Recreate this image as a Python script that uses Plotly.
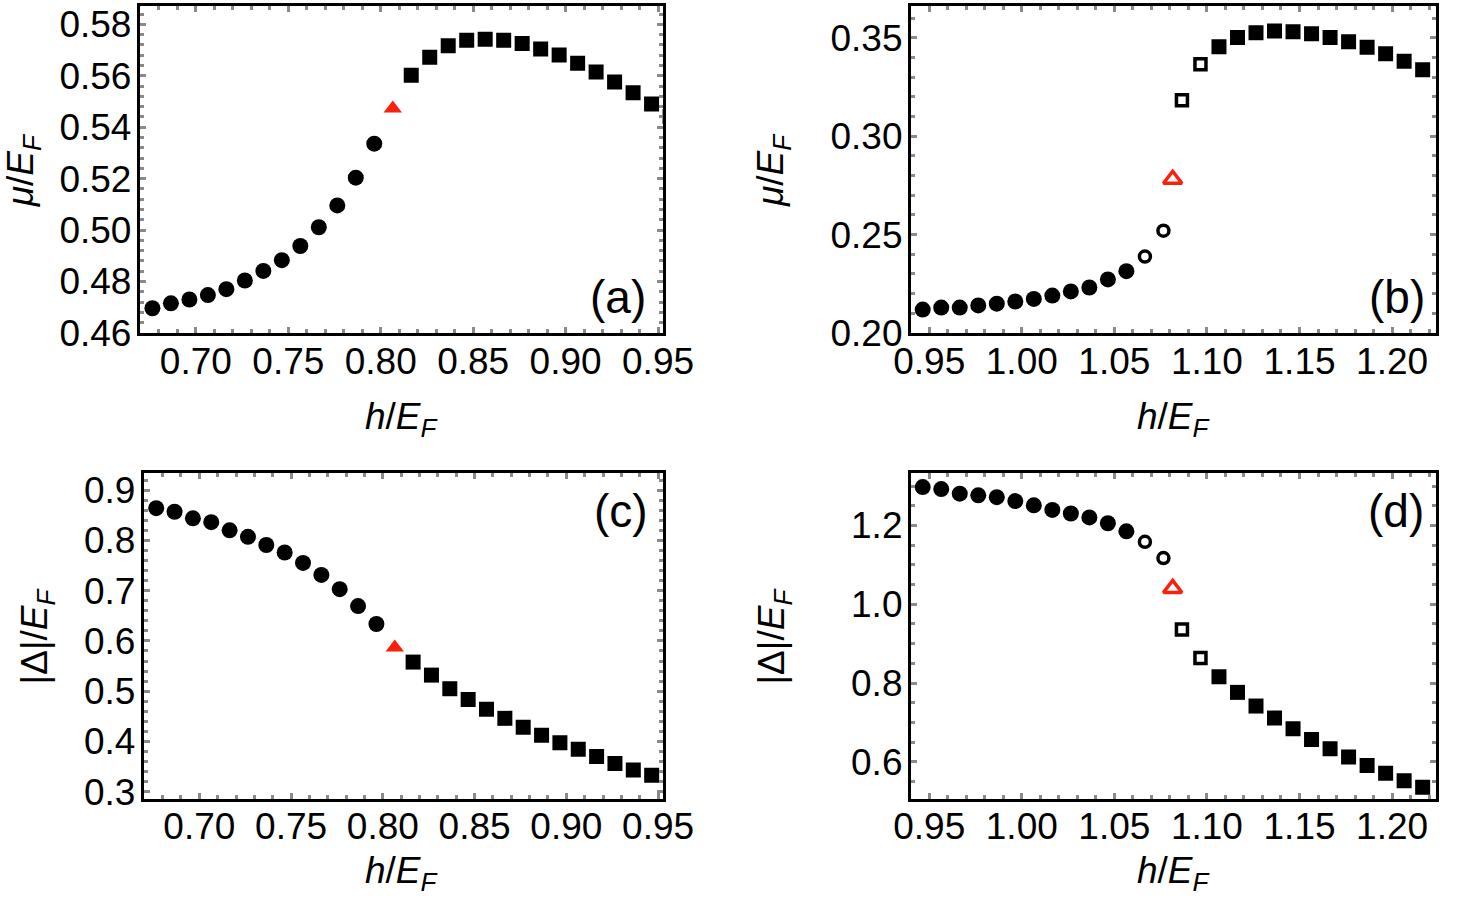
import plotly.graph_objects as go

# ---------------- data ----------------
# panel (a): mu/E_F vs h/E_F
a_circ_x = [0.6765, 0.6865, 0.6965, 0.7065, 0.7165, 0.7265, 0.7365, 0.7465, 0.7565, 0.7665, 0.7765, 0.7865, 0.7965]
a_circ_y = [0.4696, 0.4715, 0.4730, 0.4747, 0.4770, 0.4804, 0.4841, 0.4883, 0.4938, 0.5011, 0.5096, 0.5204, 0.5336]
a_tri_x = [0.8065]
a_tri_y = [0.5473]
a_sq_x = [0.8165, 0.8265, 0.8365, 0.8465, 0.8565, 0.8665, 0.8765, 0.8865, 0.8965, 0.9065, 0.9165, 0.9265, 0.9365, 0.9465, 0.9565]
a_sq_y = [0.5602, 0.5672, 0.5717, 0.5738, 0.5742, 0.5738, 0.5726, 0.5704, 0.5681, 0.5649, 0.5615, 0.5576, 0.5534, 0.5490, 0.5442]

# panel (c): |Delta|/E_F vs h/E_F
c_circ_x = a_circ_x
c_circ_y = [0.8641, 0.8570, 0.8440, 0.8362, 0.8201, 0.8071, 0.7909, 0.7760, 0.7553, 0.7314, 0.7029, 0.6693, 0.6337]
c_tri_x = [0.8065]
c_tri_y = [0.5870]
c_sq_x = [0.8165, 0.8265, 0.8365, 0.8465, 0.8565, 0.8665, 0.8765, 0.8865, 0.8965, 0.9065, 0.9165, 0.9265, 0.9365, 0.9465]
c_sq_y = [0.5579, 0.5320, 0.5049, 0.4835, 0.4641, 0.4460, 0.4285, 0.4123, 0.3974, 0.3845, 0.3702, 0.3560, 0.3430, 0.3327]

# panels (b), (d): shared h values
bd_circ_x = [0.9465, 0.9565, 0.9665, 0.9765, 0.9865, 0.9965, 1.0065, 1.0165, 1.0265, 1.0365, 1.0465, 1.0565]
bd_ocirc_x = [1.0665, 1.0765]
bd_tri_x = [1.0815]
bd_osq_x = [1.0865, 1.0965]
bd_sq_x = [1.1065, 1.1165, 1.1265, 1.1365, 1.1465, 1.1565, 1.1665, 1.1765, 1.1865, 1.1965, 1.2065, 1.2165]

b_circ_y = [0.2119, 0.2129, 0.2129, 0.2140, 0.2149, 0.2160, 0.2173, 0.2190, 0.2211, 0.2231, 0.2272, 0.2314]
b_ocirc_y = [0.2388, 0.2520]
b_tri_y = [0.2781]
b_osq_y = [0.3183, 0.3365]
b_sq_y = [0.3455, 0.3502, 0.3526, 0.3535, 0.3531, 0.3521, 0.3502, 0.3480, 0.3452, 0.3419, 0.3381, 0.3337]

d_circ_y = [1.2972, 1.2922, 1.2806, 1.2765, 1.2716, 1.2617, 1.2509, 1.2394, 1.2303, 1.2204, 1.2055, 1.1849]
d_ocirc_y = [1.1585, 1.1172]
d_tri_y = [1.0400]
d_osq_y = [0.9356, 0.8638]
d_sq_y = [0.8159, 0.7763, 0.7416, 0.7111, 0.6839, 0.6566, 0.6335, 0.6120, 0.5906, 0.5708, 0.5518, 0.5353]

x_ticks_ac = [0.70, 0.75, 0.80, 0.85, 0.90, 0.95]
x_ticks_bd = [0.95, 1.00, 1.05, 1.10, 1.15, 1.20]
y_ticks_a = [0.46, 0.48, 0.50, 0.52, 0.54, 0.56, 0.58]
y_ticks_b = [0.20, 0.25, 0.30, 0.35]
y_ticks_c = [0.3, 0.4, 0.5, 0.6, 0.7, 0.8, 0.9]
y_ticks_d = [0.6, 0.8, 1.0, 1.2]
panel_labels = ["(a)", "(b)", "(c)", "(d)"]

# ---------------- styling ----------------
W, H = 1472, 921
FONT = "Liberation Sans, Arial, sans-serif"
RED = "rgb(250,32,12)"
TICKC = "#8a8a8a"

def px_x(v):
    return min(1.0, max(0.0, v / W))

def px_y(v):
    return min(1.0, max(0.0, 1 - v / H))

fig = go.Figure()

def filled(x, y, sym, size, xa, ya, color="black"):
    fig.add_trace(go.Scatter(x=x, y=y, mode="markers", xaxis=xa, yaxis=ya,
                             marker=dict(symbol=sym, size=size, color=color, line=dict(width=0)),
                             showlegend=False, cliponaxis=True))

def hollow(x, y, sym, size, lw, xa, ya, color="black"):
    fig.add_trace(go.Scatter(x=x, y=y, mode="markers", xaxis=xa, yaxis=ya,
                             marker=dict(symbol=sym, size=size, color="white", line=dict(width=lw, color=color)),
                             showlegend=False, cliponaxis=True))

CS, SS, TS = 16, 15, 16
# (a)
filled(a_circ_x, a_circ_y, "circle", CS, "x", "y")
filled(a_tri_x, a_tri_y, "triangle-up", TS, "x", "y", RED)
filled(a_sq_x, a_sq_y, "square", SS, "x", "y")
# (b)
filled(bd_circ_x, b_circ_y, "circle", CS, "x2", "y2")
hollow(bd_ocirc_x, b_ocirc_y, "circle", 11, 3.5, "x2", "y2")
hollow(bd_tri_x, b_tri_y, "triangle-up", 16, 3.5, "x2", "y2", RED)
hollow(bd_osq_x, b_osq_y, "square", 11, 3.5, "x2", "y2")
filled(bd_sq_x, b_sq_y, "square", SS, "x2", "y2")
# (c)
filled(c_circ_x, c_circ_y, "circle", CS, "x3", "y3")
filled(c_tri_x, c_tri_y, "triangle-up", TS, "x3", "y3", RED)
filled(c_sq_x, c_sq_y, "square", SS, "x3", "y3")
# (d)
filled(bd_circ_x, d_circ_y, "circle", CS, "x4", "y4")
hollow(bd_ocirc_x, d_ocirc_y, "circle", 11, 3.5, "x4", "y4")
hollow(bd_tri_x, d_tri_y, "triangle-up", 16, 3.5, "x4", "y4", RED)
hollow(bd_osq_x, d_osq_y, "square", 11, 3.5, "x4", "y4")
filled(bd_sq_x, d_sq_y, "square", SS, "x4", "y4")

tickfont = dict(family=FONT, size=37, color="black")

def axis(domain, rng, tickvals, fmt, minor_dtick, anchor, standoff):
    return dict(domain=domain, range=rng, tickvals=tickvals, tickformat=fmt,
                showgrid=False, zeroline=False, showline=True, linecolor="black", linewidth=3,
                mirror="ticks", ticks="inside", ticklen=6, tickwidth=3, tickcolor=TICKC,
                minor=dict(dtick=minor_dtick, tick0=tickvals[0], ticks="inside", ticklen=4,
                           tickwidth=2.5, tickcolor=TICKC, showgrid=False),
                tickfont=tickfont, anchor=anchor, ticklabelstandoff=standoff,
                ticklabeloverflow="allow", fixedrange=True)

dom_x_a = [px_x(127), px_x(668)]
dom_x_b = [px_x(924), px_x(1467)]
dom_x_c = [px_x(131), px_x(668)]
dom_x_d = [px_x(924), px_x(1467)]
dom_y_top = [px_y(339), px_y(3)]
dom_y_bot = [px_y(817), px_y(483)]

XS, YS = -7, -2
fig.update_layout(
    width=W, height=H, margin=dict(l=0, r=0, t=0, b=0),
    paper_bgcolor="white", plot_bgcolor="white",
    xaxis=axis(dom_x_a, [0.6697, 0.9528], x_ticks_ac, ".2f", 0.01, "y", XS),
    yaxis=axis(dom_y_top, [0.4599, 0.5872], y_ticks_a, ".2f", 0.004, "x", YS),
    xaxis2=axis(dom_x_b, [0.9401, 1.2238], x_ticks_bd, ".2f", 0.01, "y2", XS),
    yaxis2=axis(dom_y_top, [0.1999, 0.3662], y_ticks_b, ".2f", 0.01, "x2", YS),
    xaxis3=axis(dom_x_c, [0.6697, 0.9528], x_ticks_ac, ".2f", 0.01, "y3", XS),
    yaxis3=axis(dom_y_bot, [0.2861, 0.9333], y_ticks_c, ".1f", 0.02, "x3", YS),
    xaxis4=axis(dom_x_d, [0.9401, 1.2238], x_ticks_bd, ".2f", 0.01, "y4", XS),
    yaxis4=axis(dom_y_bot, [0.5064, 1.332], y_ticks_d, ".1f", 0.05, "x4", YS),
)

title_font = dict(family=FONT, size=37, color="black")
hx = "<i>h</i>/<i>E</i><sub><i>F</i></sub>"
mu = "<i>μ</i>/<i>E</i><sub><i>F</i></sub>"
dl = "|Δ|/<i>E</i><sub><i>F</i></sub>"

annos = [
    (398, 427, hx, 0), (1196, 427, hx, 0), (398, 893, hx, 0), (1196, 893, hx, 0),
    (6, 172, mu, -90), (781, 172, mu, -90), (21, 650, dl, -90), (783, 650, dl, -90),
]
for (xp, yp, txt, ang) in annos:
    fig.add_annotation(x=px_x(xp), y=px_y(yp), xref="paper", yref="paper", text=txt,
                       showarrow=False, textangle=ang, font=title_font,
                       xanchor="center", yanchor="middle")

lab_pos = [(621, 302), (1427, 302), (624, 522), (1425, 522)]
for (xp, yp), t in zip(lab_pos, panel_labels):
    fig.add_annotation(x=px_x(xp), y=px_y(yp), xref="paper", yref="paper", text=t,
                       showarrow=False, font=dict(family=FONT, size=46, color="black"),
                       xanchor="center", yanchor="middle")

fig.write_html("out.html")
